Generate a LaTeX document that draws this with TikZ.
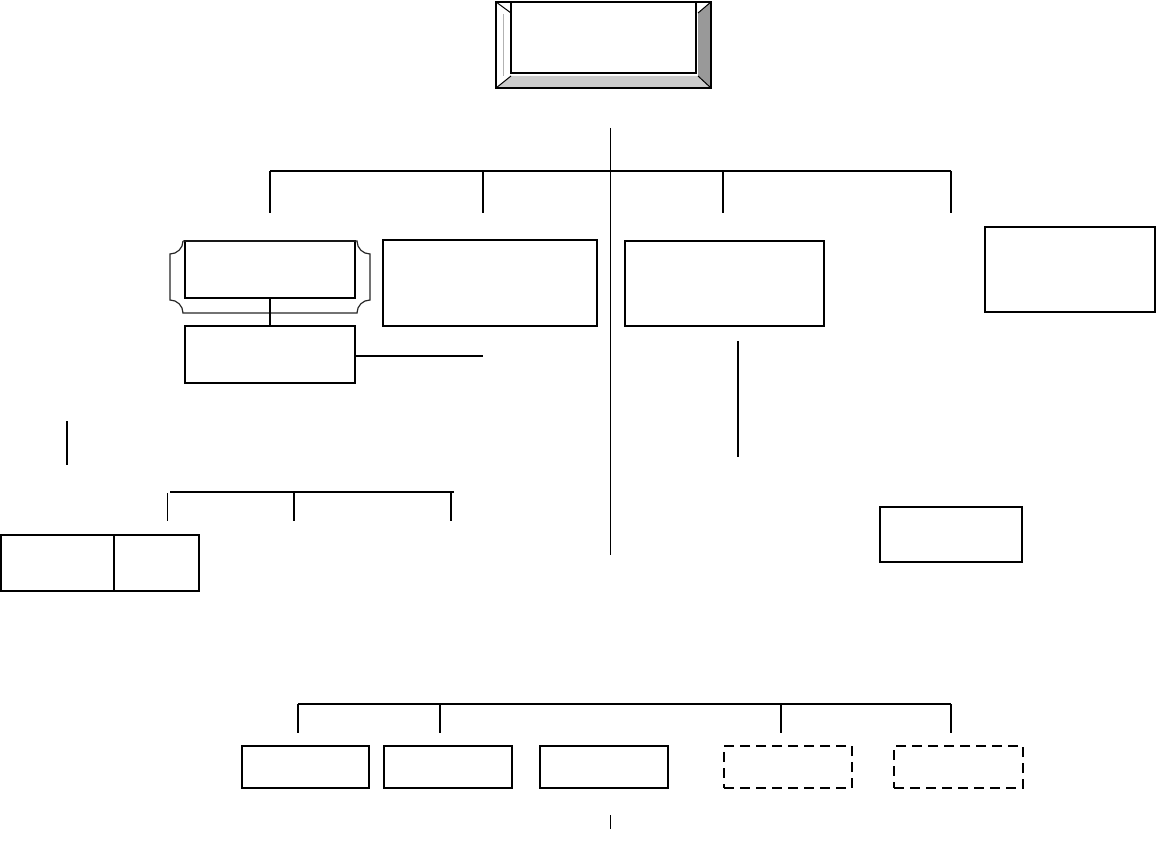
\documentclass[tikz,border=0pt]{standalone}
\usepackage{tikz}
\usetikzlibrary{positioning}

\tikzset{
  box/.style={draw, line width=1.2pt, inner sep=0pt, outer sep=0pt},
  thickbox/.style={box, line width=2pt},
  dashbox/.style={box, line width=1.6pt, dash pattern=on 10pt off 6pt},
  bar/.style={line width=1.8pt},
  thinbar/.style={line width=1.2pt}
}

\begin{document}
\begin{tikzpicture}[x=1pt, y=-1pt]
\useasboundingbox (0,0) rectangle (1156,858);

% Bevelled box at the top
\node[minimum width=215pt, minimum height=86pt, inner sep=0pt] (root) at (603.5,45) {};
\coordinate (rootin1) at (511,13);
\coordinate (rootin2) at (698,13);
\coordinate (rootin3) at (698,76);
\coordinate (rootin4) at (511,76);
\fill[black!20] (root.south west) -- (rootin4) -- (rootin3) -- (root.south east) -- cycle;
\fill[black!40] (root.north east) -- (rootin2) -- (rootin3) -- (root.south east) -- cycle;
\draw[line width=1.5pt] (root.north west) rectangle (root.south east);
\draw[line width=1pt] (root.north west) -- (rootin1) (root.north east) -- (rootin2)
  (root.south east) -- (rootin3) (root.south west) -- (rootin4);
\draw[gray!60, line width=0.6pt] (503,14) -- (503,76);
\draw[line width=2pt] (511,2) rectangle (696,73);

% Trunk and first row bar
\coordinate (trunktop) at (610,128);
\coordinate (trunkbot) at (610,555);
\draw[line width=1pt] (trunktop) -- (trunkbot);
\coordinate (barL) at (270,171);
\coordinate (barR) at (951,171);
\draw[bar] (barL) -- (barR);
\foreach \x/\w in {270/1.8, 483/1.8, 723/2.2, 951/1.2}
  \draw[line width=\w pt] (\x,171) -- (\x,213);

% First row boxes
\node[thickbox, minimum width=170pt, minimum height=57pt] (plaque) at (270,269.5) {};
\draw[black!85, line width=1.2pt] (183,241) -- (357,241) arc[start angle=180, end angle=90, radius=13]
  -- (370,300) arc[start angle=270, end angle=180, radius=13]
  -- (183,313) arc[start angle=0, end angle=-90, radius=13]
  -- (170,254) arc[start angle=90, end angle=0, radius=13];
\node[thickbox, minimum width=170pt, minimum height=57pt] (sub) at (270,354.5) {};
\node[box, minimum width=214pt, minimum height=86pt] (mid) at (490,283) {};
\node[box, minimum width=199pt, minimum height=85pt] (right) at (724.5,283.5) {};
\node[box, line width=1.6pt, minimum width=170pt, minimum height=85pt] (far) at (1070,269.5) {};

\draw[bar] (plaque.south) -- (sub.north);
\coordinate (subend) at (483,356);
\draw[bar] (sub.east |- subend) -- (subend);

% Loose lines in the middle
\draw[line width=2pt] (738,341) -- (738,457);
\draw[line width=2pt] (67,421) -- (67,465);
\draw[line width=1.2pt] (170,492) -- (454,492);
\foreach \x/\w in {167/1pt, 294/2pt, 451/1.2pt}
  \draw[line width=\w] (\x,493) -- (\x,521);

% Split box on the left and box on the right
\node[thickbox, minimum width=113pt, minimum height=56pt] (splitA) at (57.5,563) {};
\node[thickbox, minimum width=85pt, minimum height=56pt, right=0pt of splitA] (splitB) {};
\node[box, line width=1.4pt, minimum width=142pt, minimum height=55pt] (lone) at (951,534.5) {};

% Bottom row
\draw[thinbar] (298,704) -- (951,704);
\foreach \x in {298, 440, 781, 951}
  \draw[line width=1.6pt] (\x,704) -- (\x,733);
\node[thickbox, minimum width=127pt, minimum height=42pt] (low1) at (305.5,767) {};
\node[thickbox, minimum width=128pt, minimum height=42pt] (low2) at (448,767) {};
\node[thickbox, minimum width=128pt, minimum height=42pt] (low3) at (604,767) {};
\node[dashbox, minimum width=128pt, minimum height=42pt] (low4) at (788,767) {};
\node[dashbox, minimum width=129pt, minimum height=42pt] (low5) at (958.5,767) {};
\coordinate (tailtop) at (610,815);
\coordinate (tailbot) at (610,829);
\draw[line width=1pt] (tailtop) -- (tailbot);

\end{tikzpicture}
\end{document}
